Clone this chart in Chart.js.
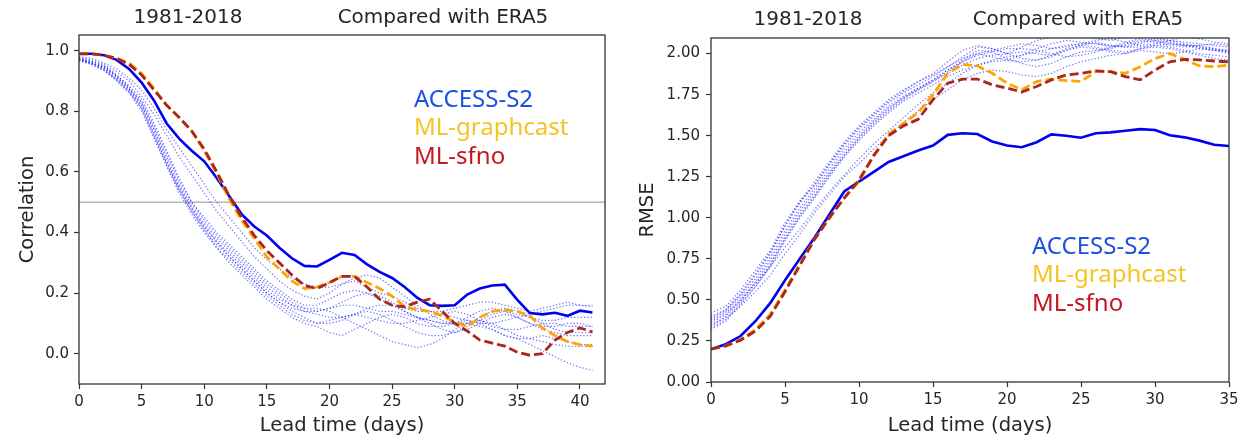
<!DOCTYPE html>
<html>
<head>
<meta charset="utf-8">
<script src="https://cdn.jsdelivr.net/npm/chart.js@4.4.1/dist/chart.umd.min.js"></script>
<style>
    body { margin: 0; background: #fff; width: 1247px; height: 442px; overflow: hidden; position: relative; }
    canvas { position: absolute; top: 0; }
    #corr-chart { left: 0; }
    #rmse-chart { left: 622px; }
</style>
</head>
<body>
<canvas id="corr-chart" width="617" height="442"></canvas>
<canvas id="rmse-chart" width="625" height="442"></canvas>
<script>
// lead time in days
const corrLeadDays = [0,1,2,3,4,5,6,7,8,9,10,11,12,13,14,15,16,17,18,19,20,21,22,23,24,25,26,27,28,29,30,31,32,33,34,35,36,37,38,39,40,41];
const rmseLeadDays = [0,1,2,3,4,5,6,7,8,9,10,11,12,13,14,15,16,17,18,19,20,21,22,23,24,25,26,27,28,29,30,31,32,33,34,35];

const corrTicksX = [0, 5, 10, 15, 20, 25, 30, 35, 40];
const corrTicksY = [0.0, 0.2, 0.4, 0.6, 0.8, 1.0];
const rmseTicksX = [0, 5, 10, 15, 20, 25, 30, 35];
const rmseTicksY = [0.00, 0.25, 0.50, 0.75, 1.00, 1.25, 1.50, 1.75, 2.00];

const seriesNames = ['ACCESS-S2', 'ML-graphcast', 'ML-sfno'];
const periodText = '1981-2018';
const compareText = 'Compared with ERA5';
const corrThreshold = 0.5;

// correlation
const corrAccess = [0.99,0.99,0.985,0.97,0.94,0.895,0.835,0.76,0.71,0.67,0.635,0.58,0.52,0.46,0.42,0.39,0.35,0.315,0.29,0.288,0.31,0.333,0.326,0.295,0.27,0.25,0.22,0.185,0.16,0.158,0.16,0.195,0.215,0.225,0.228,0.178,0.134,0.13,0.135,0.125,0.142,0.136];
const corrGraphcast = [0.99,0.99,0.985,0.975,0.96,0.925,0.875,0.82,0.78,0.735,0.67,0.595,0.51,0.44,0.38,0.32,0.28,0.24,0.215,0.22,0.235,0.255,0.255,0.235,0.215,0.19,0.155,0.145,0.14,0.125,0.105,0.09,0.12,0.14,0.145,0.14,0.125,0.085,0.06,0.04,0.03,0.025];
const corrSfno = [0.99,0.99,0.985,0.975,0.955,0.92,0.87,0.82,0.78,0.735,0.675,0.6,0.52,0.45,0.39,0.34,0.3,0.26,0.225,0.215,0.235,0.255,0.255,0.22,0.18,0.16,0.155,0.17,0.18,0.14,0.1,0.075,0.045,0.035,0.025,0.005,-0.005,0.0,0.045,0.07,0.085,0.072];
const corrMembers = [
    [0.98,0.975,0.96,0.94,0.91,0.87,0.81,0.74,0.68,0.62,0.56,0.5,0.45,0.4,0.35,0.31,0.28,0.25,0.23,0.22,0.22,0.23,0.24,0.22,0.2,0.19,0.17,0.15,0.14,0.14,0.15,0.16,0.17,0.17,0.16,0.15,0.14,0.15,0.16,0.17,0.16,0.16],
    [0.98,0.97,0.955,0.93,0.9,0.85,0.79,0.72,0.65,0.59,0.53,0.47,0.42,0.37,0.32,0.28,0.24,0.21,0.19,0.18,0.2,0.23,0.25,0.26,0.25,0.22,0.19,0.16,0.13,0.11,0.1,0.1,0.11,0.13,0.14,0.13,0.12,0.11,0.11,0.12,0.12,0.12],
    [0.975,0.965,0.95,0.92,0.88,0.83,0.75,0.66,0.57,0.5,0.44,0.39,0.35,0.31,0.27,0.23,0.2,0.17,0.15,0.14,0.15,0.17,0.19,0.2,0.19,0.17,0.14,0.12,0.11,0.1,0.1,0.12,0.14,0.15,0.14,0.12,0.1,0.09,0.09,0.1,0.1,0.09],
    [0.97,0.96,0.945,0.915,0.875,0.83,0.74,0.65,0.56,0.49,0.43,0.38,0.34,0.3,0.26,0.22,0.19,0.16,0.14,0.13,0.12,0.12,0.13,0.15,0.16,0.16,0.14,0.12,0.1,0.08,0.07,0.08,0.1,0.12,0.13,0.12,0.1,0.08,0.07,0.06,0.06,0.06],
    [0.975,0.965,0.95,0.92,0.885,0.84,0.76,0.67,0.58,0.5,0.45,0.4,0.36,0.32,0.28,0.24,0.21,0.18,0.16,0.16,0.18,0.2,0.21,0.2,0.18,0.16,0.15,0.14,0.14,0.13,0.12,0.11,0.1,0.1,0.11,0.12,0.13,0.14,0.15,0.16,0.16,0.155],
    [0.97,0.96,0.94,0.91,0.87,0.82,0.73,0.63,0.54,0.47,0.41,0.36,0.32,0.28,0.24,0.2,0.17,0.15,0.14,0.14,0.15,0.16,0.16,0.15,0.14,0.14,0.13,0.12,0.11,0.1,0.1,0.1,0.09,0.08,0.06,0.05,0.03,0.01,-0.01,-0.03,-0.045,-0.055],
    [0.97,0.955,0.935,0.9,0.86,0.8,0.71,0.62,0.54,0.47,0.41,0.35,0.3,0.26,0.22,0.18,0.15,0.12,0.1,0.09,0.07,0.06,0.08,0.1,0.12,0.13,0.12,0.1,0.09,0.09,0.1,0.11,0.1,0.08,0.06,0.05,0.05,0.06,0.05,0.04,0.03,0.03],
    [0.975,0.96,0.94,0.905,0.865,0.81,0.72,0.63,0.55,0.48,0.42,0.37,0.33,0.29,0.25,0.21,0.18,0.16,0.15,0.15,0.14,0.12,0.1,0.08,0.06,0.04,0.03,0.02,0.03,0.05,0.08,0.1,0.11,0.1,0.08,0.06,0.05,0.04,0.03,0.025,0.024,0.024],
    [0.97,0.96,0.945,0.915,0.875,0.82,0.74,0.64,0.55,0.48,0.42,0.37,0.32,0.28,0.24,0.2,0.17,0.14,0.12,0.1,0.1,0.11,0.13,0.14,0.13,0.11,0.09,0.07,0.06,0.06,0.07,0.09,0.12,0.14,0.15,0.14,0.12,0.1,0.08,0.07,0.07,0.068],
    [0.965,0.955,0.935,0.905,0.865,0.81,0.72,0.62,0.53,0.46,0.4,0.35,0.31,0.27,0.23,0.19,0.16,0.13,0.11,0.1,0.11,0.12,0.13,0.12,0.11,0.1,0.1,0.11,0.12,0.13,0.14,0.13,0.11,0.09,0.08,0.08,0.09,0.1,0.1,0.09,0.09,0.09]
];

// rmse
const rmseAccess = [0.2,0.23,0.28,0.37,0.48,0.62,0.75,0.88,1.02,1.16,1.22,1.28,1.34,1.375,1.41,1.44,1.505,1.515,1.51,1.465,1.44,1.43,1.46,1.508,1.5,1.488,1.515,1.52,1.53,1.54,1.535,1.503,1.49,1.47,1.445,1.437];
const rmseGraphcast = [0.2,0.22,0.26,0.32,0.41,0.56,0.72,0.87,1.0,1.12,1.22,1.38,1.51,1.575,1.64,1.75,1.88,1.935,1.925,1.88,1.82,1.78,1.83,1.845,1.835,1.83,1.89,1.89,1.88,1.92,1.97,2.0,1.965,1.925,1.92,1.93];
const rmseSfno = [0.2,0.22,0.255,0.31,0.4,0.55,0.71,0.87,1.0,1.12,1.23,1.38,1.5,1.56,1.6,1.72,1.82,1.845,1.845,1.81,1.79,1.766,1.8,1.84,1.87,1.88,1.895,1.89,1.86,1.84,1.9,1.95,1.965,1.962,1.955,1.95];
const rmseMembers = [
    [0.42,0.46,0.56,0.68,0.8,0.97,1.1,1.2,1.33,1.45,1.55,1.63,1.71,1.77,1.83,1.88,1.95,2.02,2.05,2.03,2.0,2.04,2.08,2.1,2.12,2.11,2.09,2.08,2.1,2.12,2.1,2.08,2.07,2.06,2.05,2.04],
    [0.4,0.44,0.53,0.65,0.78,0.95,1.09,1.2,1.32,1.44,1.54,1.62,1.7,1.76,1.81,1.86,1.92,1.98,2.04,2.03,2.0,1.97,1.96,1.98,2.02,2.05,2.07,2.05,2.04,2.06,2.08,2.07,2.05,2.03,2.02,2.02],
    [0.38,0.43,0.52,0.63,0.76,0.92,1.06,1.18,1.3,1.42,1.52,1.6,1.68,1.74,1.79,1.84,1.9,1.96,2.02,2.01,1.97,1.94,1.92,1.94,1.98,2.01,2.02,2.03,2.06,2.08,2.07,2.05,2.04,2.05,2.03,2.01],
    [0.36,0.41,0.5,0.61,0.74,0.9,1.04,1.16,1.28,1.4,1.5,1.59,1.67,1.73,1.78,1.83,1.89,1.95,2.0,2.02,2.04,2.06,2.05,2.03,2.04,2.06,2.08,2.09,2.07,2.05,2.06,2.08,2.1,2.09,2.07,2.06],
    [0.34,0.4,0.49,0.6,0.72,0.88,1.02,1.14,1.27,1.38,1.48,1.57,1.65,1.72,1.78,1.83,1.88,1.93,1.97,1.99,2.0,2.01,2.0,1.99,2.02,2.04,2.03,2.01,2.0,2.03,2.05,2.04,2.02,2.0,1.99,1.98],
    [0.33,0.38,0.48,0.58,0.7,0.86,1.0,1.12,1.25,1.37,1.47,1.56,1.64,1.71,1.76,1.81,1.86,1.9,1.93,1.95,1.96,1.99,2.03,2.06,2.08,2.07,2.06,2.04,2.05,2.07,2.09,2.08,2.06,2.04,2.02,2.01],
    [0.35,0.39,0.46,0.55,0.65,0.78,0.9,1.03,1.14,1.25,1.33,1.42,1.5,1.58,1.65,1.72,1.78,1.84,1.88,1.9,1.89,1.87,1.86,1.88,1.92,1.95,1.97,1.99,2.0,2.02,2.01,2.0,2.01,2.03,2.02,2.0],
    [0.37,0.42,0.5,0.6,0.7,0.82,0.93,1.05,1.16,1.26,1.36,1.45,1.53,1.61,1.69,1.76,1.82,1.88,1.93,1.96,1.98,1.99,2.01,2.03,2.05,2.06,2.06,2.05,2.04,2.04,2.05,2.06,2.05,2.04,2.03,2.02],
    [0.39,0.44,0.54,0.66,0.79,0.95,1.1,1.22,1.34,1.46,1.56,1.64,1.72,1.78,1.83,1.87,1.92,1.97,2.0,1.98,1.96,1.95,1.96,1.99,2.03,2.05,2.04,2.02,2.01,2.03,2.04,2.03,2.01,1.99,1.97,1.96],
    [0.32,0.37,0.47,0.58,0.71,0.87,1.01,1.13,1.26,1.38,1.49,1.58,1.66,1.73,1.79,1.84,1.9,1.95,1.99,2.01,2.03,2.03,2.02,2.0,1.98,1.99,2.01,2.04,2.07,2.09,2.08,2.06,2.05,2.05,2.06,2.05]
];

const colors = {
    access: '#0000f0',
    member: 'rgba(20, 20, 255, 0.6)',
    graphcast: '#ffa500',
    sfno: '#a8281f',
    threshold: '#b8b8b8',
    axis: '#333333',
    text: '#262626'
};
const labelColors = ['#1d4fe0', '#f5c424', '#c3161d'];
const tickFont = {family: 'DejaVu Sans', size: 15};

function toPoints(xs, ys) {
    return ys.map((y, i) => ({x: xs[i], y: y}));
}

function buildDatasets(xs, access, graphcast, sfno, members) {
    // first dataset is drawn on top
    const datasets = [
        {data: toPoints(xs, sfno), borderColor: colors.sfno, borderWidth: 2.8, borderDash: [9, 4]},
        {data: toPoints(xs, graphcast), borderColor: colors.graphcast, borderWidth: 2.8, borderDash: [9, 4]},
        {data: toPoints(xs, access), borderColor: colors.access, borderWidth: 2.6}
    ];
    members.forEach(member => {
        datasets.push({data: toPoints(xs, member), borderColor: colors.member, borderWidth: 1.2, borderDash: [1.3, 2]});
    });
    return datasets;
}

const panelText = {
    id: 'panelText',
    afterDraw(chart, args, opts) {
        const ctx = chart.ctx;
        const area = chart.chartArea;
        ctx.save();
        ctx.strokeStyle = colors.axis;
        ctx.lineWidth = 1.3;
        ctx.strokeRect(area.left, area.top, area.right - area.left, area.bottom - area.top);

        ctx.fillStyle = colors.text;
        ctx.textBaseline = 'middle';
        ctx.textAlign = 'center';
        ctx.font = '20px "DejaVu Sans"';
        ctx.fillText(periodText, opts.periodX, opts.titleY);
        ctx.fillText(compareText, opts.compareX, opts.titleY);

        ctx.font = '19.5px "DejaVu Sans"';
        ctx.fillText('Lead time (days)', (area.left + area.right) / 2, opts.xTitleY);
        ctx.translate(opts.yTitleX, (area.top + area.bottom) / 2);
        ctx.rotate(-Math.PI / 2);
        ctx.fillText(opts.yTitle, 0, 0);
        ctx.restore();

        ctx.save();
        ctx.font = '24px "Noto Sans"';
        ctx.textAlign = 'left';
        ctx.textBaseline = 'middle';
        seriesNames.forEach((name, i) => {
            ctx.fillStyle = labelColors[i];
            ctx.fillText(name, opts.legendX, opts.legendY + i * 28.5);
        });
        ctx.restore();
    }
};

function makeChart(canvasId, datasets, cfg) {
    return new Chart(document.getElementById(canvasId), {
        type: 'line',
        plugins: [panelText],
        data: {datasets: datasets},
        options: {
            responsive: false,
            animation: false,
            layout: {padding: {left: 0, top: cfg.top, right: cfg.right, bottom: 0}},
            elements: {point: {radius: 0}, line: {tension: 0, fill: false}},
            plugins: {
                legend: {display: false},
                tooltip: {enabled: false},
                panelText: cfg.text
            },
            scales: {
                x: {
                    type: 'linear',
                    min: cfg.xMin,
                    max: cfg.xMax,
                    afterBuildTicks: scale => { scale.ticks = cfg.xTicks.map(v => ({value: v})); },
                    afterFit: scale => { scale.height = cfg.xHeight; },
                    border: {display: false},
                    grid: {drawOnChartArea: false, color: colors.axis, tickLength: 5, tickWidth: 1.2},
                    ticks: {color: colors.text, font: tickFont, padding: 4, maxRotation: 0,
                        callback: v => String(v)}
                },
                y: {
                    type: 'linear',
                    min: cfg.yMin,
                    max: cfg.yMax,
                    afterBuildTicks: scale => { scale.ticks = cfg.yTicks.map(v => ({value: v})); },
                    afterFit: scale => { scale.width = cfg.yWidth; },
                    border: {display: false},
                    grid: {drawOnChartArea: false, color: colors.axis, tickLength: 5, tickWidth: 1.2},
                    ticks: {color: colors.text, font: tickFont, padding: cfg.yPad,
                        callback: v => v.toFixed(cfg.digits)}
                }
            }
        }
    });
}

const corrDatasets = buildDatasets(corrLeadDays, corrAccess, corrGraphcast, corrSfno, corrMembers);
corrDatasets.push({
    data: [{x: 0, y: corrThreshold}, {x: 42, y: corrThreshold}],
    borderColor: colors.threshold, borderWidth: 1.3
});
makeChart('corr-chart', corrDatasets, {
    top: 35, right: 12, xHeight: 58, yWidth: 79, yPad: 5, digits: 1,
    xMin: 0, xMax: 42, yMin: -0.1, yMax: 1.052,
    xTicks: corrTicksX, yTicks: corrTicksY,
    text: {periodX: 188, compareX: 443, titleY: 18, xTitleY: 426, yTitleX: 28, yTitle: 'Correlation', legendX: 414, legendY: 100}
});

const rmseDatasets = buildDatasets(rmseLeadDays, rmseAccess, rmseGraphcast, rmseSfno, rmseMembers);
makeChart('rmse-chart', rmseDatasets, {
    top: 38, right: 18, xHeight: 60, yWidth: 89, yPad: 6, digits: 2,
    xMin: 0, xMax: 35, yMin: 0, yMax: 2.095,
    xTicks: rmseTicksX, yTicks: rmseTicksY,
    text: {periodX: 186, compareX: 456, titleY: 20, xTitleY: 426, yTitleX: 26, yTitle: 'RMSE', legendX: 410, legendY: 247}
});
</script>
</body>
</html>
